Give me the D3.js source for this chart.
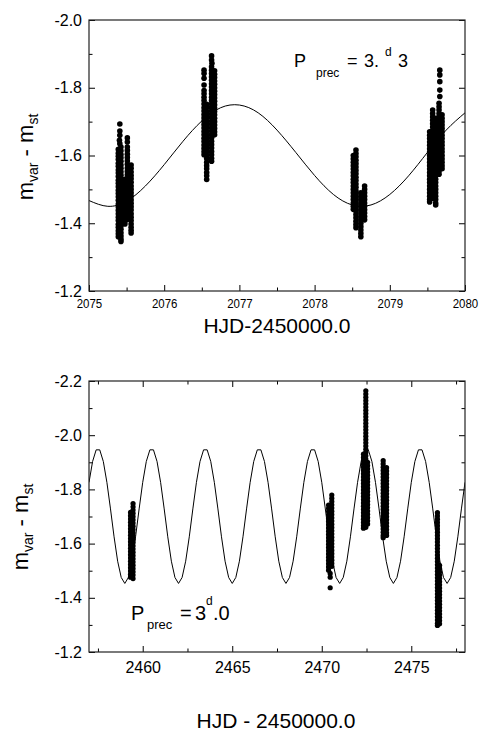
<!DOCTYPE html>
<html>
<head>
<meta charset="utf-8">
<script src="https://cdn.jsdelivr.net/npm/d3@7"></script>
<style>
body { margin: 0; background: #fff; }
text { font-family: "Liberation Sans", Arial, sans-serif; fill: #000; }
</style>
</head>
<body>
<div id="chart"></div>
<script>
"use strict"

// ---------- top panel data ----------
let topXTicks = [2075, 2076, 2077, 2078, 2079, 2080];
let topXMinor = [2075.5, 2076.5, 2077.5, 2078.5, 2079.5];
let topYTicks = [-2.0, -1.8, -1.6, -1.4, -1.2];
let topYMinor = [-1.9, -1.7, -1.5, -1.3];

// fitted precession curve
let topCurveX = [2075, 2075.25, 2075.5, 2075.75, 2076, 2076.25, 2076.5, 2076.75, 2077, 2077.25, 2077.5,
  2077.75, 2078, 2078.25, 2078.5, 2078.75, 2079, 2079.25, 2079.5, 2079.75, 2080];
let topCurveY = [-1.467, -1.450, -1.465, -1.510, -1.573, -1.642, -1.702, -1.741, -1.749, -1.726, -1.675,
  -1.609, -1.541, -1.485, -1.454, -1.454, -1.485, -1.540, -1.609, -1.675, -1.726];

// observation streaks: one x per column, y values down the column
let topColX = [2075.39, 2075.425, 2075.478, 2075.51, 2075.56,
  2076.53, 2076.565, 2076.63, 2076.67,
  2078.515, 2078.55, 2078.615, 2078.665,
  2079.53, 2079.57, 2079.61, 2079.655, 2079.695];
let topColY = [
  [-1.618, -1.607, -1.598, -1.588, -1.577, -1.568, -1.557, -1.548, -1.538, -1.527, -1.518, -1.508, -1.497, -1.488, -1.478, -1.468, -1.457, -1.448, -1.438, -1.428, -1.418, -1.408, -1.397, -1.388, -1.378, -1.369, -1.36],
  [-1.625, -1.614, -1.603, -1.593, -1.583, -1.572, -1.562, -1.552, -1.542, -1.532, -1.522, -1.512, -1.502, -1.492, -1.482, -1.472, -1.462, -1.452, -1.442, -1.432, -1.422, -1.412, -1.402, -1.392, -1.382, -1.372, -1.362, -1.353, -1.346],
  [-1.530, -1.519, -1.509, -1.499, -1.488, -1.478, -1.468, -1.457, -1.447, -1.437, -1.427, -1.416, -1.406, -1.398],
  [-1.625, -1.615, -1.604, -1.594, -1.584, -1.574, -1.563, -1.553, -1.543, -1.533, -1.522, -1.512, -1.502, -1.492, -1.481, -1.471, -1.461, -1.451, -1.440, -1.430, -1.420, -1.412],
  [-1.572, -1.562, -1.551, -1.541, -1.531, -1.521, -1.510, -1.500, -1.490, -1.480, -1.469, -1.459, -1.449, -1.439, -1.428, -1.418, -1.408, -1.398, -1.388, -1.379, -1.371],
  [-1.792, -1.782, -1.772, -1.762, -1.752, -1.741, -1.731, -1.721, -1.711, -1.701, -1.691, -1.681, -1.671, -1.661, -1.651, -1.641, -1.631, -1.621, -1.611, -1.602],
  [-1.751, -1.741, -1.730, -1.721, -1.711, -1.700, -1.690, -1.681, -1.670, -1.660, -1.651, -1.640, -1.630, -1.621, -1.610, -1.600, -1.591, -1.580, -1.570, -1.561, -1.550, -1.540, -1.529],
  [-1.862, -1.852, -1.842, -1.832, -1.822, -1.812, -1.802, -1.792, -1.782, -1.772, -1.762, -1.752, -1.742, -1.732, -1.722, -1.712, -1.702, -1.692, -1.682, -1.672, -1.662, -1.652, -1.642, -1.632, -1.622, -1.612, -1.602, -1.592, -1.583],
  [-1.850, -1.840, -1.830, -1.820, -1.810, -1.800, -1.790, -1.780, -1.770, -1.760, -1.750, -1.740, -1.730, -1.720, -1.710, -1.700, -1.690, -1.680, -1.670, -1.661],
  [-1.600, -1.590, -1.580, -1.570, -1.560, -1.550, -1.540, -1.530, -1.520, -1.510, -1.500, -1.490, -1.480, -1.470, -1.460, -1.450, -1.441],
  [-1.616, -1.606, -1.596, -1.586, -1.576, -1.566, -1.556, -1.546, -1.536, -1.526, -1.516, -1.506, -1.496, -1.486, -1.476, -1.466, -1.456, -1.446, -1.436, -1.426, -1.416, -1.406, -1.396, -1.387],
  [-1.490, -1.480, -1.470, -1.460, -1.450, -1.440, -1.430, -1.420, -1.410, -1.400, -1.390, -1.380, -1.370, -1.360],
  [-1.510, -1.500, -1.490, -1.480, -1.470, -1.460, -1.450, -1.440, -1.430, -1.420, -1.410],
  [-1.670, -1.660, -1.650, -1.640, -1.630, -1.620, -1.610, -1.600, -1.590, -1.580, -1.570, -1.560, -1.550, -1.540, -1.530, -1.520, -1.510, -1.500, -1.490, -1.480, -1.470, -1.463],
  [-1.734, -1.724, -1.714, -1.704, -1.694, -1.684, -1.674, -1.664, -1.654, -1.644, -1.634, -1.624, -1.614, -1.604, -1.594, -1.584, -1.574, -1.564, -1.554, -1.544, -1.534, -1.524, -1.514, -1.504, -1.494, -1.484, -1.474],
  [-1.710, -1.700, -1.690, -1.680, -1.670, -1.660, -1.650, -1.640, -1.630, -1.620, -1.610, -1.600, -1.590, -1.580, -1.570, -1.560, -1.550, -1.540, -1.530, -1.520, -1.510, -1.500, -1.490, -1.480, -1.470, -1.460, -1.454],
  [-1.754, -1.744, -1.734, -1.724, -1.714, -1.704, -1.694, -1.684, -1.674, -1.664, -1.654, -1.644, -1.634, -1.624, -1.614, -1.604, -1.594, -1.584, -1.574, -1.564, -1.554, -1.545],
  [-1.720, -1.710, -1.700, -1.690, -1.680, -1.670, -1.660, -1.650, -1.640, -1.630, -1.620, -1.610, -1.600, -1.590, -1.580, -1.570, -1.561]
];
// single points sitting above the streaks
let topLoose = [
  [2075.41, -1.693], [2075.41, -1.672], [2075.41, -1.660], [2075.405, -1.645], [2075.41, -1.635],
  [2075.51, -1.652], [2075.51, -1.640],
  [2076.53, -1.852], [2076.53, -1.842], [2076.53, -1.828], [2076.53, -1.808],
  [2076.63, -1.894], [2076.63, -1.882], [2076.635, -1.872],
  [2079.665, -1.852], [2079.665, -1.838], [2079.665, -1.818], [2079.665, -1.793], [2079.665, -1.774]
];

// ---------- bottom panel data ----------
let botXTicks = [2460, 2465, 2470, 2475];
let botXMinor = [2457.5, 2462.5, 2467.5, 2472.5, 2477.5];
let botYTicks = [-2.2, -2.0, -1.8, -1.6, -1.4, -1.2];
let botYMinor = [-2.1, -1.9, -1.7, -1.5, -1.3];

let botCurveX = [2457, 2457.2, 2457.4, 2457.6, 2457.8, 2458, 2458.2, 2458.4, 2458.6, 2458.8,
  2459, 2459.2, 2459.4, 2459.6, 2459.8, 2460, 2460.2, 2460.4, 2460.6, 2460.8,
  2461, 2461.2, 2461.4, 2461.6, 2461.8, 2462, 2462.2, 2462.4, 2462.6, 2462.8,
  2463, 2463.2, 2463.4, 2463.6, 2463.8, 2464, 2464.2, 2464.4, 2464.6, 2464.8,
  2465, 2465.2, 2465.4, 2465.6, 2465.8, 2466, 2466.2, 2466.4, 2466.6, 2466.8,
  2467, 2467.2, 2467.4, 2467.6, 2467.8, 2468, 2468.2, 2468.4, 2468.6, 2468.8,
  2469, 2469.2, 2469.4, 2469.6, 2469.8, 2470, 2470.2, 2470.4, 2470.6, 2470.8,
  2471, 2471.2, 2471.4, 2471.6, 2471.8, 2472, 2472.2, 2472.4, 2472.6, 2472.8,
  2473, 2473.2, 2473.4, 2473.6, 2473.8, 2474, 2474.2, 2474.4, 2474.6, 2474.8,
  2475, 2475.2, 2475.4, 2475.6, 2475.8, 2476, 2476.2, 2476.4, 2476.6, 2476.8,
  2477, 2477.2, 2477.4, 2477.6, 2477.8, 2478];
let botCurveY = [
  -1.826, -1.903, -1.946, -1.946, -1.903, -1.826, -1.728, -1.625, -1.535, -1.475, -1.453, -1.475, -1.535, -1.625, -1.728,
  -1.826, -1.903, -1.946, -1.946, -1.903, -1.826, -1.728, -1.625, -1.535, -1.475, -1.453, -1.475, -1.535, -1.625, -1.728,
  -1.826, -1.903, -1.946, -1.946, -1.903, -1.826, -1.728, -1.625, -1.535, -1.475, -1.453, -1.475, -1.535, -1.625, -1.728,
  -1.826, -1.903, -1.946, -1.946, -1.903, -1.826, -1.728, -1.625, -1.535, -1.475, -1.453, -1.475, -1.535, -1.625, -1.728,
  -1.826, -1.903, -1.946, -1.946, -1.903, -1.826, -1.728, -1.625, -1.535, -1.475, -1.453, -1.475, -1.535, -1.625, -1.728,
  -1.826, -1.903, -1.946, -1.946, -1.903, -1.826, -1.728, -1.625, -1.535, -1.475, -1.453, -1.475, -1.535, -1.625, -1.728,
  -1.826, -1.903, -1.946, -1.946, -1.903, -1.826, -1.728, -1.625, -1.535, -1.475, -1.453, -1.475, -1.535, -1.625, -1.728,
  -1.826];

let botColX = [2459.32, 2459.46, 2470.38, 2470.56, 2472.46, 2472.33, 2472.56, 2473.43, 2473.62, 2476.46, 2476.58];
let botColY = [
  [-1.715, -1.703, -1.691, -1.679, -1.667, -1.655, -1.643, -1.631, -1.619, -1.607, -1.595, -1.583, -1.571, -1.559, -1.547, -1.535, -1.523, -1.511, -1.499, -1.487, -1.476],
  [-1.748, -1.736, -1.724, -1.712, -1.700, -1.688, -1.676, -1.664, -1.652, -1.640, -1.628, -1.616, -1.604, -1.592, -1.580, -1.568, -1.556, -1.544, -1.532, -1.520, -1.508, -1.496, -1.484, -1.471],
  [-1.742, -1.730, -1.718, -1.706, -1.694, -1.682, -1.670, -1.658, -1.646, -1.634, -1.622, -1.610, -1.598, -1.586, -1.574, -1.562, -1.550, -1.538, -1.526, -1.514, -1.502],
  [-1.779, -1.767, -1.755, -1.743, -1.731, -1.719, -1.707, -1.695, -1.683, -1.671, -1.659, -1.647, -1.635, -1.623, -1.611, -1.599, -1.587, -1.575, -1.563, -1.551, -1.539, -1.527, -1.516],
  [-2.164, -2.152, -2.140, -2.128, -2.116, -2.104, -2.092, -2.080, -2.068, -2.056, -2.044, -2.032, -2.020, -2.008, -1.996, -1.984, -1.972, -1.960, -1.948, -1.936, -1.924, -1.912, -1.900, -1.888, -1.876, -1.864, -1.852, -1.840, -1.828, -1.816, -1.804, -1.792, -1.780, -1.768, -1.756, -1.744, -1.732, -1.720, -1.708, -1.696, -1.684, -1.672, -1.660],
  [-1.930, -1.918, -1.906, -1.894, -1.882, -1.870, -1.858, -1.846, -1.834, -1.822, -1.810, -1.798, -1.786, -1.774, -1.762, -1.750, -1.738, -1.726, -1.714, -1.702, -1.690, -1.678, -1.666, -1.657],
  [-1.900, -1.888, -1.876, -1.864, -1.852, -1.840, -1.828, -1.816, -1.804, -1.792, -1.780, -1.768, -1.756, -1.744, -1.732, -1.720, -1.708, -1.696, -1.684, -1.672],
  [-1.906, -1.894, -1.882, -1.870, -1.858, -1.846, -1.834, -1.822, -1.810, -1.798, -1.786, -1.774, -1.762, -1.750, -1.738, -1.726, -1.714, -1.702, -1.690, -1.678, -1.666, -1.654, -1.642, -1.630, -1.622],
  [-1.880, -1.868, -1.856, -1.844, -1.832, -1.820, -1.808, -1.796, -1.784, -1.772, -1.760, -1.748, -1.736, -1.724, -1.712, -1.700, -1.688, -1.676, -1.664, -1.652, -1.640, -1.630],
  [-1.714, -1.702, -1.690, -1.678, -1.666, -1.654, -1.642, -1.630, -1.618, -1.606, -1.594, -1.582, -1.570, -1.558, -1.546, -1.534, -1.522, -1.510, -1.498, -1.486, -1.474, -1.462, -1.450, -1.438, -1.426, -1.414, -1.402, -1.390, -1.378, -1.366, -1.354, -1.342, -1.330, -1.318, -1.306, -1.298],
  [-1.520, -1.508, -1.496, -1.484, -1.472, -1.460, -1.448, -1.436, -1.424, -1.412, -1.400, -1.388, -1.376, -1.364, -1.352, -1.340, -1.328, -1.316, -1.304]
];
let botLoose = [[2470.47, -1.490], [2470.47, -1.476], [2470.47, -1.437]];

// ---------- drawing ----------
let drawingWidth = 481;
let drawingHeight = 733;
let plotLeft = 89;
let plotRight = 465;

let drawing = d3.select("#chart")
    .append("svg")
    .attr("width", drawingWidth)
    .attr("height", drawingHeight);

function columnsToPoints(colX, colY, loose) {
  let pts = [];
  colX.forEach((cx, i) => colY[i].forEach(v => pts.push([cx, v])));
  return pts.concat(loose);
}

function drawPanel(p) {
  let x = d3.scaleLinear().domain(p.xDomain).range([plotLeft, plotRight]);
  let y = d3.scaleLinear().domain(p.yDomain).range([p.top, p.bottom]);
  let g = drawing.append("g");

  let clipId = "clip" + p.top;
  g.append("clipPath").attr("id", clipId)
    .append("rect").attr("x", plotLeft).attr("y", p.top)
    .attr("width", plotRight - plotLeft).attr("height", p.bottom - p.top);

  let line = d3.line().x(d => x(d[0])).y(d => y(d[1])).curve(p.curve);
  g.append("path")
    .datum(d3.zip(p.curveX, p.curveY))
    .attr("d", line)
    .attr("clip-path", "url(#" + clipId + ")")
    .attr("fill", "none")
    .attr("stroke", "#000")
    .attr("stroke-width", 1);

  g.append("g").selectAll("circle")
    .data(p.points)
    .join("circle")
    .attr("cx", d => x(d[0]))
    .attr("cy", d => y(d[1]))
    .attr("r", p.r)
    .attr("fill", "#000");

  // ticks, all pointing inward
  let bottomAxis = g.append("g")
    .attr("transform", "translate(0," + p.bottom + ")")
    .call(d3.axisBottom(x).tickValues(p.xTicks).tickSize(-6).tickPadding(p.xPad).tickFormat(d => String(d)));
  bottomAxis.selectAll("text").attr("font-size", p.xFont).attr("transform", "scale(" + p.xStretch + ",1)");
  g.append("g").attr("transform", "translate(0," + p.bottom + ")")
    .call(d3.axisBottom(x).tickValues(p.xMinor).tickSize(-3.5).tickFormat(""));

  if (p.topTicks) {
    g.append("g").attr("transform", "translate(0," + p.top + ")")
      .call(d3.axisTop(x).tickValues(p.xTicks).tickSize(-6).tickFormat(""));
    g.append("g").attr("transform", "translate(0," + p.top + ")")
      .call(d3.axisTop(x).tickValues(p.xMinor).tickSize(-3.5).tickFormat(""));
  }

  let leftAxis = g.append("g")
    .attr("transform", "translate(" + plotLeft + ",0)")
    .call(d3.axisLeft(y).tickValues(p.yTicks).tickSize(-6).tickPadding(7).tickFormat(d => d.toFixed(1)));
  leftAxis.selectAll("text").attr("font-size", 16);
  g.append("g").attr("transform", "translate(" + plotLeft + ",0)")
    .call(d3.axisLeft(y).tickValues(p.yMinor).tickSize(-3.5).tickFormat(""));
  g.append("g").attr("transform", "translate(" + plotRight + ",0)")
    .call(d3.axisRight(y).tickValues(p.yTicks).tickSize(-6).tickFormat(""));
  g.append("g").attr("transform", "translate(" + plotRight + ",0)")
    .call(d3.axisRight(y).tickValues(p.yMinor).tickSize(-3.5).tickFormat(""));

  g.selectAll(".domain").remove();
  g.selectAll(".tick line").attr("stroke", "#000");
  g.selectAll(".tick text").attr("font-family", "Liberation Sans, Arial, sans-serif").attr("fill", "#000");

  g.append("rect")
    .attr("x", plotLeft).attr("y", p.top)
    .attr("width", plotRight - plotLeft).attr("height", p.bottom - p.top)
    .attr("fill", "none").attr("stroke", "#222").attr("stroke-width", 1.2);

  // axis titles
  g.append("text")
    .attr("x", p.titleX).attr("y", p.titleY)
    .attr("text-anchor", "middle").attr("font-size", 21)
    .text(p.xTitle);

  let yt = g.append("text")
    .attr("transform", "translate(" + p.yTitleX + "," + p.yTitleY + ") rotate(-90)")
    .attr("text-anchor", "middle").attr("font-size", 22);
  yt.append("tspan").text("m");
  yt.append("tspan").attr("font-size", 14).attr("dy", 5).text("var");
  yt.append("tspan").attr("dy", -5).text(" - m");
  yt.append("tspan").attr("font-size", 14).attr("dy", 5).text("st");
}

drawPanel({
  xDomain: [2075, 2080], yDomain: [-2.0, -1.2], top: 20, bottom: 291,
  xTicks: topXTicks, xMinor: topXMinor, yTicks: topYTicks, yMinor: topYMinor,
  xPad: 7, xFont: 13.5, xStretch: 0.85, topTicks: false,
  curveX: topCurveX, curveY: topCurveY, curve: d3.curveNatural,
  points: columnsToPoints(topColX, topColY, topLoose), r: 2.8,
  xTitle: "HJD-2450000.0", titleX: 277, titleY: 333,
  yTitleX: 33, yTitleY: 157
});

drawPanel({
  xDomain: [2457, 2478], yDomain: [-2.2, -1.2], top: 381, bottom: 652,
  xTicks: botXTicks, xMinor: botXMinor, yTicks: botYTicks, yMinor: botYMinor,
  xPad: 10, xFont: 16, xStretch: 1, topTicks: true,
  curveX: botCurveX, curveY: botCurveY, curve: d3.curveLinear,
  points: columnsToPoints(botColX, botColY, botLoose), r: 2.6,
  xTitle: "HJD - 2450000.0", titleX: 276, titleY: 728,
  yTitleX: 28, yTitleY: 527
});

// period annotations
function label(xp, yp, size, txt) {
  drawing.append("text").attr("x", xp).attr("y", yp).attr("font-size", size).text(txt);
}
label(294, 67, 18, "P");
label(316, 77, 12, "prec");
label(347, 67, 18, "=");
label(364, 67, 18, "3.");
label(385, 56, 12, "d");
label(398, 67, 18, "3");

label(131, 620, 20, "P");
label(147, 629, 13, "prec");
label(180, 620, 20, "=");
label(195, 620, 20, "3");
label(206, 605, 12, "d");
label(213, 620, 20, ".0");
</script>
</body>
</html>
